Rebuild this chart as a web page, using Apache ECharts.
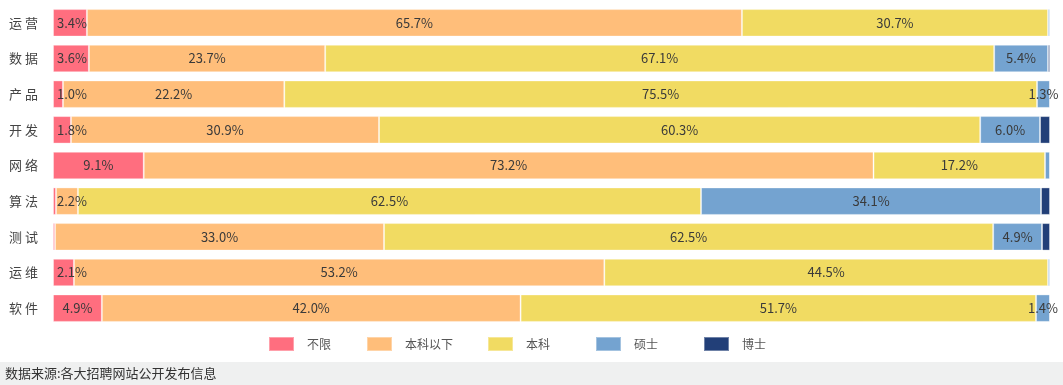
<!DOCTYPE html>
<html>
<head>
<meta charset="utf-8">
<script src="https://cdn.jsdelivr.net/npm/echarts@6/dist/echarts.min.js"></script>
<style>html,body{margin:0;padding:0;background:#fff;}#c{width:1063px;height:385px;}</style>
</head>
<body>
<div id="c"></div>
<script>
const categories = ['运营','数据','产品','开发','网络','算法','测试','运维','软件'];
const seriesNames = ['不限','本科以下','本科','硕士','博士'];
const unlimited   = [3.4, 3.6, 1.0, 1.8, 9.1, 0.3, 0.2, 2.1, 4.9];
const belowBach   = [65.7, 23.7, 22.2, 30.9, 73.2, 2.2, 33.0, 53.2, 42.0];
const bachelor    = [30.7, 67.1, 75.5, 60.3, 17.2, 62.5, 61.1, 44.5, 51.7];
const master      = [0.2, 5.4, 1.3, 6.0, 0.5, 34.1, 4.9, 0.2, 1.4];
const doctor      = [0.0, 0.2, 0.0, 1.0, 0.0, 0.9, 0.8, 0.0, 0.0];
// label text as printed on the original chart where it differs from the bar length
const labelOverride = {'测试|本科': '62.5%'};
const colors = ['#ff6e7f','#ffbe7a','#f1db62','#74a3d0','#223f78'];
const sourceText = '数据来源:各大招聘网站公开发布信息';

const allData = [unlimited, belowBach, bachelor, master, doctor];
const showLabels = [true, true, true, true, false];
const legendLeft = [263, 361, 482, 590, 698];

const chart = echarts.init(document.getElementById('c'));
chart.setOption({
  animation: false,
  color: colors,
  textStyle: {fontFamily: '"Noto Sans CJK SC", "Noto Sans", sans-serif'},
  grid: {left: 53, right: 13, top: 5, bottom: 59},
  xAxis: {type: 'value', min: 0, max: 100, show: false},
  yAxis: {
    type: 'category', data: categories, inverse: true,
    axisLine: {show: false}, axisTick: {show: false},
    axisLabel: {fontSize: 13, color: '#444', margin: 15,
      formatter: v => v.split('').join(' ')}
  },
  legend: seriesNames.map((n, i) => ({
    data: [n], left: legendLeft[i], top: 331, icon: 'rect',
    itemWidth: 25, itemHeight: 14,
    textStyle: {fontSize: 12, color: '#555', padding: [0, 0, 0, 8]}
  })),
  graphic: [
    {type: 'rect', left: 0, top: 362, shape: {width: 1063, height: 23}, style: {fill: '#eff0f0'}, z: -1},
    {type: 'text', left: 5, top: 367, style: {text: sourceText, fontSize: 13, fill: '#333',
      fontFamily: '"Noto Sans CJK SC", sans-serif'}}
  ],
  series: seriesNames.map((n, si) => ({
    name: n, type: 'bar', stack: 'total', barCategoryGap: '23%',
    data: allData[si],
    itemStyle: {borderColor: 'rgba(255,255,255,0.35)', borderWidth: 1},
    label: {
      show: showLabels[si], position: 'inside', fontSize: 13, color: '#3a3a3a',
      formatter: p => {
        const key = categories[p.dataIndex] + '|' + n;
        if (labelOverride[key]) return labelOverride[key];
        return p.value >= 1 ? p.value.toFixed(1) + '%' : '';
      }
    },
    labelLayout: p => {
      const r = p.labelRect;
      if (r && r.width > 0 && r.x < 57) {
        return {x: 57 + r.width / 2, y: r.y + r.height / 2, align: 'center', verticalAlign: 'middle'};
      }
      return {};
    }
  }))
});
</script>
</body>
</html>
